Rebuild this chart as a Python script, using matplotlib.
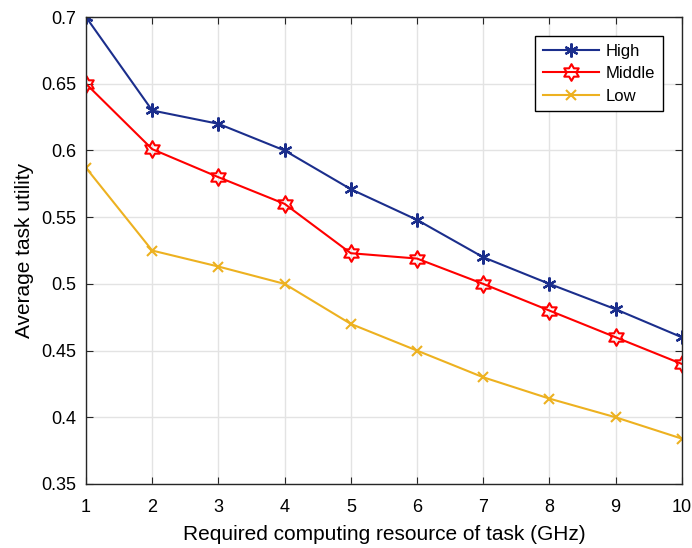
import numpy as np
import matplotlib
matplotlib.use("Agg")
import matplotlib.pyplot as plt
from matplotlib.path import Path

plt.rcParams["font.family"] = ["Liberation Sans", "DejaVu Sans"]

# data
resource_ghz = [1, 2, 3, 4, 5, 6, 7, 8, 9, 10]
utility_high = [0.700, 0.630, 0.620, 0.600, 0.571, 0.548, 0.520, 0.500, 0.481, 0.460]
utility_middle = [0.650, 0.601, 0.580, 0.560, 0.523, 0.519, 0.500, 0.480, 0.460, 0.440]
utility_low = [0.587, 0.525, 0.513, 0.500, 0.470, 0.450, 0.430, 0.414, 0.400, 0.384]
series_names = ["High", "Middle", "Low"]


def hexagram():
    # MATLAB style six-pointed star, outline of two overlapping triangles
    outer = 1.0
    inner = outer / np.sqrt(3)
    verts = []
    for k in range(12):
        ang = np.pi / 2 + k * np.pi / 6
        r = outer if k % 2 == 0 else inner
        verts.append((r * np.cos(ang), r * np.sin(ang)))
    verts.append(verts[0])
    codes = [Path.MOVETO] + [Path.LINETO] * 11 + [Path.CLOSEPOLY]
    return Path(verts, codes)


fig = plt.figure(figsize=(6.92, 5.48), dpi=100)
ax = fig.add_axes([0.1243, 0.1168, 0.861, 0.852])

ax.plot(resource_ghz, utility_high, color="#1b2e8c", lw=1.5,
        marker=(6, 2, 0), ms=10, mew=1.6, label=series_names[0])
ax.plot(resource_ghz, utility_middle, color="#ff0000", lw=1.5,
        marker=hexagram(), ms=12, mew=1.5, mfc="none", label=series_names[1])
ax.plot(resource_ghz, utility_low, color="#edb120", lw=1.5,
        marker="x", ms=7, mew=1.5, label=series_names[2])

ax.set_xlim(1, 10)
ax.set_ylim(0.35, 0.7)
ax.set_xticks(resource_ghz)
ax.set_yticks(np.arange(0.35, 0.7001, 0.05))
ax.set_yticklabels(["0.35", "0.4", "0.45", "0.5", "0.55", "0.6", "0.65", "0.7"])
ax.grid(True, color="#e3e3e3", lw=1)
ax.set_axisbelow(True)
ax.tick_params(direction="in", top=True, right=True, length=5,
               labelsize=13, color="#262626")
ax.tick_params(axis="x", pad=11)
ax.tick_params(axis="y", pad=7)
for s in ax.spines.values():
    s.set_color("#262626")
    s.set_linewidth(1.0)

ax.set_xlabel("Required computing resource of task (GHz)", fontsize=15, labelpad=6)
ax.set_ylabel("Average task utility", fontsize=15, labelpad=5)

leg = ax.legend(loc="upper right", bbox_to_anchor=(0.982, 0.977), fontsize=12,
                fancybox=False, edgecolor="black", framealpha=1,
                handlelength=3.4, handletextpad=0.4, borderpad=0.45,
                labelspacing=0.45)
leg.get_frame().set_linewidth(1.0)

fig.savefig("out.png", dpi=100)
